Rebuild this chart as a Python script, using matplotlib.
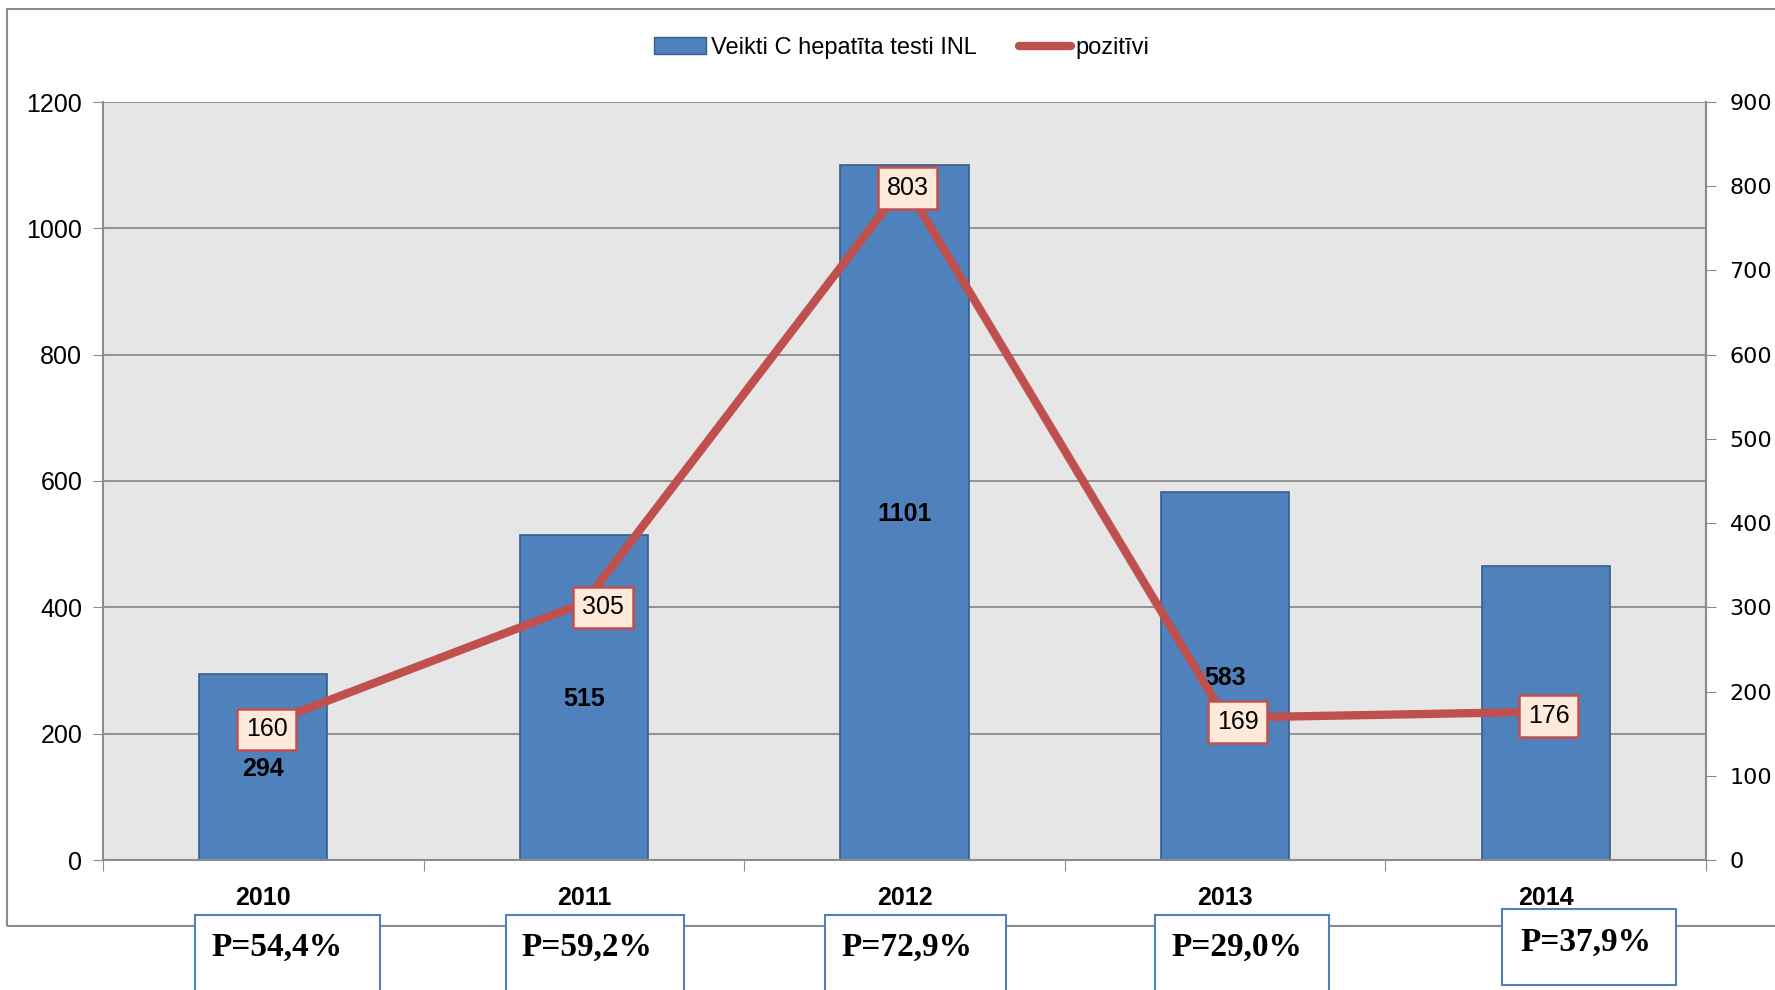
import matplotlib.pyplot as plt
from matplotlib.patches import Rectangle
from matplotlib.lines import Line2D

# Data
years = ['2010', '2011', '2012', '2013', '2014']
tests = [294, 515, 1101, 583, 465]
positive = [160, 305, 803, 169, 176]
p_labels = ['P=54,4%', 'P=59,2%', 'P=72,9%', 'P=29,0%', 'P=37,9%']

bar_color = '#4F81BD'
line_color = '#C0504D'
grid_color = '#8C8C8C'

plt.rcParams['font.family'] = ['Liberation Sans', 'DejaVu Sans']

fig = plt.figure(figsize=(17.75, 9.9), dpi=100)

# Outer chart border
fig.patches.append(Rectangle((7 / 1775, 1 - 926 / 990), 1.0, (926 - 9) / 990,
                             transform=fig.transFigure, fill=False,
                             ec='#8C8C8C', lw=1.5, zorder=0))

ax = fig.add_axes([103 / 1775, 130 / 990, 1603 / 1775, 758 / 990])
ax.set_facecolor('#E6E6E6')
x = range(len(years))
ax.bar(x, tests, width=0.4, color=bar_color, edgecolor='#385D8A', linewidth=1.2, zorder=2)
ax.set_xlim(-0.5, 4.5)
ax.set_ylim(0, 1200)
ax.set_yticks(range(0, 1201, 200))
ax.yaxis.grid(True, color=grid_color, lw=1.3)
ax.set_axisbelow(True)
ax.tick_params(axis='y', labelsize=18, length=7, color=grid_color, pad=8)
ax.set_xticks([-0.5, 0.5, 1.5, 2.5, 3.5, 4.5])
ax.set_xticklabels([])
ax.tick_params(axis='x', length=8, color=grid_color)
for s in ['left', 'bottom', 'right']:
    ax.spines[s].set_color(grid_color)
    ax.spines[s].set_linewidth(1.5)
ax.spines['top'].set_visible(False)

for i, (yr, v) in enumerate(zip(years, tests)):
    ax.text(i, v / 2 - 3, str(v), ha='center', va='center', fontsize=18,
            fontweight='bold', zorder=3)
    ax.text(i, -60, yr, ha='center', va='center', fontsize=18,
            fontweight='bold', clip_on=False)

ax2 = ax.twinx()
ax2.plot(list(x), positive, color=line_color, lw=6, solid_capstyle='round',
         solid_joinstyle='round', zorder=4)
ax2.set_ylim(0, 900)
ax2.set_yticks(range(0, 901, 100))
ax2.tick_params(axis='y', labelsize=16, length=7, color=grid_color, pad=10,
                labelfontfamily='DejaVu Sans')
for s in ['left', 'bottom', 'top']:
    ax2.spines[s].set_visible(False)
ax2.spines['right'].set_color(grid_color)
ax2.spines['right'].set_linewidth(1.5)

label_shift = [0.01, 0.06, 0.01, 0.04, 0.01]
for i, v in enumerate(positive):
    ax2.text(i + label_shift[i], v - 5, str(v), ha='center', va='center', fontsize=18, zorder=5,
             bbox=dict(boxstyle='square,pad=0.35', fc='#FDEADA', ec=line_color, lw=1.8))

# Legend
handles = [Rectangle((0, 0), 1, 1, fc=bar_color, ec='#385D8A'),
           Line2D([0], [0], color=line_color, lw=6, solid_capstyle='round')]
fig.legend(handles, ['Veikti C hepatīta testi INL', 'pozitīvi'],
           loc='center', bbox_to_anchor=(0.508, 1 - 48 / 990), ncol=2,
           frameon=False, fontsize=17, handlelength=2.2, handletextpad=0.2,
           columnspacing=1.8)

# Percentage boxes below the chart
box_x = [(195, 380), (506, 684), (825, 1006), (1155, 1329), (1502, 1676)]
box_top = [915, 915, 915, 915, 909]
box_bottom = [995, 995, 995, 995, 985]
text_pos = [(277, 947), (587, 947), (907, 947), (1237, 947), (1586, 942)]
for (x0, x1), t, b, (tx, ty), lab in zip(box_x, box_top, box_bottom, text_pos, p_labels):
    fig.patches.append(Rectangle((x0 / 1775, 1 - b / 990), (x1 - x0) / 1775, (b - t) / 990,
                                 transform=fig.transFigure, fc='white',
                                 ec=bar_color, lw=1.5, zorder=5))
    fig.text(tx / 1775, 1 - ty / 990, lab, ha='center', va='center',
             fontsize=24, fontweight='bold', family='Liberation Serif', zorder=6)

fig.savefig('out.png', dpi=100)
